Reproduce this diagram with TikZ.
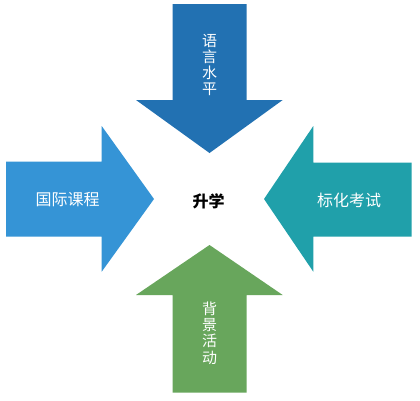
\documentclass[tikz,border=0pt]{standalone}
\usepackage{fontspec}
\newfontfamily\cjk{Noto Sans CJK SC}
\definecolor{topblue}{RGB}{34,113,178}
\definecolor{leftblue}{RGB}{53,148,214}
\definecolor{rightteal}{RGB}{32,160,170}
\definecolor{botgreen}{RGB}{104,166,92}
\tikzset{
  arrowlabel/.style={text=white,font=\cjk\fontsize{16}{16.3}\selectfont,inner sep=0pt,align=center},
  vlabel/.style={text=white,font=\cjk\fontsize{15}{16.3}\selectfont,inner sep=0pt,align=center},
  hubtext/.style={text=black,font=\cjk\bfseries\fontsize{16}{18}\selectfont,inner sep=0pt}
}
\begin{document}
\begin{tikzpicture}[x=1pt,y=-1pt]
\useasboundingbox (0,0) rectangle (420,400);
\fill[white] (0,0) rectangle (420,400);
% top arrow
\fill[topblue] (172.7,4) -- (246.7,4) -- (246.7,100) -- (282.7,100) -- (209.5,153) -- (136,100) -- (172.7,100) -- cycle;
% left arrow
\fill[leftblue] (6,161.7) -- (101.7,161.7) -- (101.7,126) -- (154,199) -- (101.7,271.7) -- (101.7,236.7) -- (6,236.7) -- cycle;
% right arrow
\fill[rightteal] (411.7,162.7) -- (313.3,162.7) -- (313.3,126) -- (264,199) -- (313.3,271.7) -- (313.3,236.7) -- (411.7,236.7) -- cycle;
% bottom arrow
\fill[botgreen] (172.7,392.7) -- (246.7,392.7) -- (246.7,295) -- (282.7,295) -- (209.5,245) -- (136,295) -- (172.7,295) -- cycle;
\node[vlabel] (lang) at (209.5,65) {语\\言\\水\\平};
\node[arrowlabel] (intl) at (67.5,200) {国际课程};
\node[arrowlabel] (test) at (349,200) {标化考试};
\node[vlabel] (bg) at (209.5,333) {背\\景\\活\\动};
\node[hubtext] (hub) at (208.5,201) {升学};
\end{tikzpicture}
\end{document}
